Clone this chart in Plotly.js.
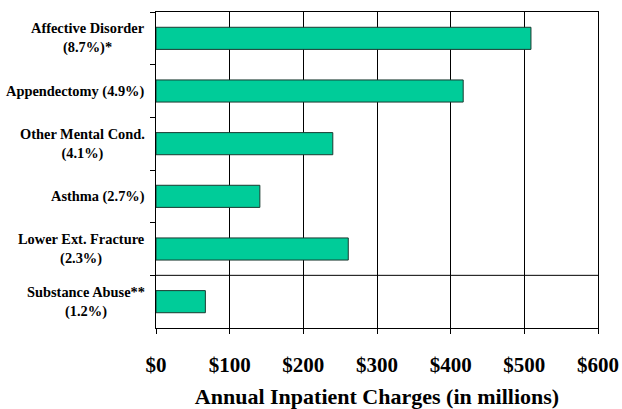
<!DOCTYPE html>
<html>
<head>
<meta charset="utf-8">
<script src="https://cdn.plot.ly/plotly-3.0.1.min.js"></script>
<style>html,body{margin:0;padding:0;background:#fff;}#chart{width:622px;height:409px;}</style>
</head>
<body>
<div id="chart"></div>
<script>
var categories = ["Affective Disorder", "Appendectomy", "Other Mental Cond.", "Asthma", "Lower Ext. Fracture", "Substance Abuse"];
var labelLines = ["Affective Disorder<br>(8.7%)*", "Appendectomy (4.9%)", "Other Mental Cond.<br>(4.1%)", "Asthma (2.7%)", "Lower Ext. Fracture<br>(2.3%)", "Substance Abuse**<br>(1.2%)"];
var charges = [509, 417, 240, 141, 261, 67];
var tickValues = [0, 100, 200, 300, 400, 500, 600];
var tickLabels = ["$0", "$100", "$200", "$300", "$400", "$500", "$600"];

var serif = "Liberation Serif, Times New Roman, serif";

var annotations = categories.map(function (c, i) {
  return {
    xref: "paper", yref: "y", x: 0, y: c, xanchor: "right", yanchor: "middle",
    xshift: -9, text: "<b>" + labelLines[i] + "</b>", showarrow: false, align: "center",
    font: {family: serif, size: 14.4, color: "#000"}
  };
});

var trace = {
  type: "bar", orientation: "h", y: categories, x: charges, width: 0.42,
  marker: {color: "#00CC99", line: {color: "#1a3a30", width: 1}},
  hoverinfo: "none"
};

var layout = {
  width: 622, height: 409,
  margin: {l: 156, r: 24, t: 12, b: 81},
  paper_bgcolor: "#fff", plot_bgcolor: "#fff",
  showlegend: false,
  bargap: 0.58,
  xaxis: {
    range: [0, 600], tickvals: tickValues, ticktext: tickLabels,
    showgrid: true, gridcolor: "#000", gridwidth: 1,
    showline: true, linecolor: "#000", linewidth: 1, mirror: true,
    ticks: "outside", ticklen: 5, tickcolor: "#000",
    ticklabelstandoff: 13,
    tickfont: {family: serif, size: 21, color: "#000", weight: "bold"},
    zeroline: false,
    title: {text: "<b>Annual Inpatient Charges (in millions)</b>", font: {family: serif, size: 22, color: "#000"}, standoff: 12}
  },
  yaxis: {
    type: "category", categoryarray: categories, autorange: "reversed",
    showticklabels: false, showgrid: false,
    showline: true, linecolor: "#000", linewidth: 1, mirror: true,
    ticks: "outside", ticklen: 5, tickcolor: "#000", tickson: "boundaries"
  },
  shapes: [{type: "line", xref: "paper", x0: 0, x1: 1, yref: "y", y0: 4.5, y1: 4.5, line: {color: "#000", width: 1}}],
  annotations: annotations
};

Plotly.newPlot("chart", [trace], layout, {displayModeBar: false, staticPlot: true});
</script>
</body>
</html>
